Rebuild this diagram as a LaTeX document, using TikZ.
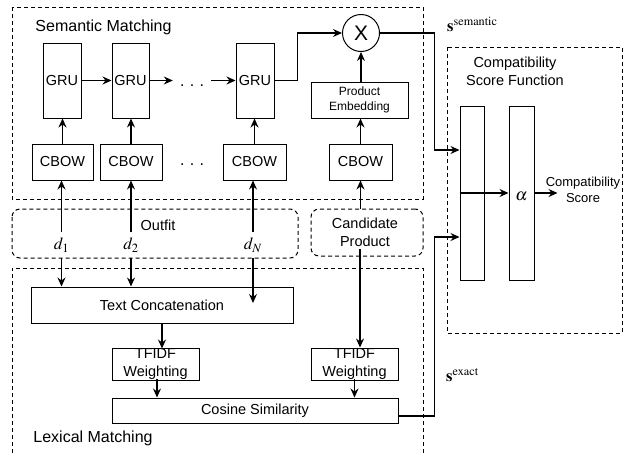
\documentclass[tikz,border=0pt]{standalone}
\usepackage{mathptmx}
\usepackage[no-math]{fontspec}
\setmainfont{Liberation Sans}
\usetikzlibrary{arrows.meta,calc}
\newcommand{\fsz}[2]{\fontsize{#1}{#2}\selectfont}

\begin{document}
\begin{tikzpicture}[x=1pt,y=-1pt,
  box/.style={draw, line width=1pt, inner sep=0pt, align=center, font=\fsz{14.5}{18}},
  bar/.style={draw, line width=1pt, inner sep=0pt, minimum height=174pt},
  plain/.style={inner sep=0pt, align=center, font=\fsz{14.5}{18}},
  region/.style={draw, line width=1pt, dash pattern=on 4pt off 3pt},
  arr/.style={-{Stealth[length=9pt,width=8pt,inset=3pt]}, line width=1.1pt},
  link/.style={line width=1.1pt}]
\useasboundingbox (0,0) rectangle (631,453);

% ---- dashed regions ----
\draw[region] (12,7) rectangle (423,199);
\draw[region, rounded corners=8pt] (12,209) rectangle (298,258);
\draw[region] (447,47) rectangle (622,333);
\draw[region] (12,453) -- (12,268) -- (423,268) -- (423,453);

\node[plain, font=\fsz{16}{18}] (semtitle) at (103.5,27) {Semantic Matching};
\node[plain, font=\fsz{16}{18}] (lextitle) at (93,438) {Lexical Matching};
\node[plain] (comptitle) at (515,71) {Compatibility\\Score Function};

% ---- semantic matching ----
\node[box, minimum width=38pt, minimum height=75pt] (gru1) at (62,80.5) {GRU};
\node[box, minimum width=37pt, minimum height=75pt] (gru2) at (130.5,80.5) {GRU};
\node[box, minimum width=38pt, minimum height=75pt] (gru3) at (255,80.5) {GRU};
\node[plain, font=\fsz{16}{18}, minimum width=38pt] (dotsa) at (192,86) {.\,\,.\,\,.};

\node[box, minimum width=61pt, minimum height=36pt] (cbow1) at (62.5,162) {CBOW};
\node[box, minimum width=62pt, minimum height=36pt] (cbow2) at (131,162) {CBOW};
\node[box, minimum width=63pt, minimum height=36pt] (cbow3) at (254.5,162) {CBOW};
\node[box, minimum width=63pt, minimum height=36pt] (cbow4) at (360.5,162) {CBOW};
\node[plain, font=\fsz{16}{18}] (dotsb) at (192,165) {.\,\,.\,\,.};

\node[box, font=\fsz{12}{15}, minimum width=97pt, minimum height=36pt] (pemb) at (359.5,100) {Product\\Embedding};
\node[draw, circle, line width=1pt, minimum size=37pt, inner sep=0pt, font=\fsz{21}{21}] (mult) at (361,33) {X};

% ---- outfit and candidate ----
\node[plain] (outfit) at (158,225) {Outfit};
\node[plain, font=\fsz{17}{18}, minimum height=26pt] (d1) at (61.5,245) {$d_1$};
\node[plain, font=\fsz{17}{18}, minimum height=26pt] (d2) at (131,245) {$d_2$};
\node[plain, font=\fsz{17}{18}, minimum height=26pt] (dn) at (253,245) {$d_N$};
\node[region, rounded corners=8pt, minimum width=112pt, minimum height=47pt, inner sep=0pt] (cand) at (367,232.5) {};
\node[plain] (candtext) at (365,232) {Candidate\\Product};

% ---- lexical matching ----
\node[box, minimum width=262pt, minimum height=36pt] (concat) at (162,305) {Text Concatenation};
\node[box, minimum width=87pt, minimum height=32pt] (tfidf1) at (155.5,364) {TFIDF\\Weighting};
\node[box, minimum width=87pt, minimum height=32pt] (tfidf2) at (354.5,364) {TFIDF\\Weighting};
\node[box, minimum width=286pt, minimum height=25pt] (cosine) at (255,410.5) {Cosine Similarity};

% ---- compatibility score function ----
\node[bar, minimum width=24pt] (bar1) at (472,193) {};
\node[bar, minimum width=25pt] (bar2) at (521.5,193) {};
\node[plain, font=\fsz{17}{18}] (alpha) at (521.5,196) {$\alpha$};
\node[plain, font=\fsz{13}{16}] (score) at (583,190) {Compatibility\\Score};

\node[anchor=base west, inner sep=0pt, font=\fsz{16.5}{18}] (ssem) at (447,31) {$\mathbf{s}^{\mathrm{semantic}}$};
\node[anchor=base west, inner sep=0pt, font=\fsz{16.5}{18}] (sexa) at (446,381) {$\mathbf{s}^{\mathrm{exact}}$};

% ---- connectors: semantic path ----
\draw[arr] (gru1) -- (gru2);
\draw[arr] (gru2) -- (dotsa.west |- gru2.east);
\draw[arr] (dotsa.east |- gru3.west) -- (gru3);
\draw[arr] (gru3.east) -- ++(23,0) |- (mult.west);
\draw[arr] (cbow1) -- (gru1.south -| cbow1);
\draw[arr] (cbow2) -- (gru2.south -| cbow2);
\draw[arr] (cbow3) -- (gru3.south -| cbow3);
\draw[arr] (cbow4) -- (pemb.south -| cbow4);
\draw[arr] (pemb.north -| mult) -- (mult);

\draw[arr] (d1.north) -- (cbow1.south -| d1);
\draw[arr] (d2.north) -- (cbow2.south -| d2);
\draw[arr] (dn.north) -- (cbow3.south -| dn);
\draw[arr] (cand.north -| cbow4) -- (cbow4.south);

% ---- connectors: lexical path ----
\coordinate (dnend) at (253,303);
\coordinate (candout) at (360,249);
\draw[arr] (d1.south) -- (concat.north -| d1);
\draw[arr] (d2.south) -- (concat.north -| d2);
\draw[arr] (dn.south) -- (dnend);
\draw[arr] (concat.south -| tfidf1.north) ++(6.5,0) -- ++(0,25);
\draw[arr] (candout) -- (tfidf2.north -| candout);
\draw[arr] ($(tfidf1.south)+(1.5,-2)$) -- ($(cosine.north -| tfidf1.south)+(1.5,0)$);
\draw[arr] ($(tfidf2.south)+(0,-2)$) -- (cosine.north -| tfidf2.south);

% ---- connectors into the score function ----
\coordinate (insem) at (bar1.west |- 0,150);
\coordinate (inexa) at (bar1.west |- 0,237);
\draw[arr] (mult.east) -| ($(insem)+(-25,0)$) -- (insem);
\draw[arr] ($(cosine.east)+(0,5.5)$) -| ($(inexa)+(-25,0)$) -- (inexa);
\draw[arr] (bar1.west |- bar2.west) -- (bar2.west);
\draw[arr] (bar2.east) -- ++(23,0);
\end{tikzpicture}
\end{document}
